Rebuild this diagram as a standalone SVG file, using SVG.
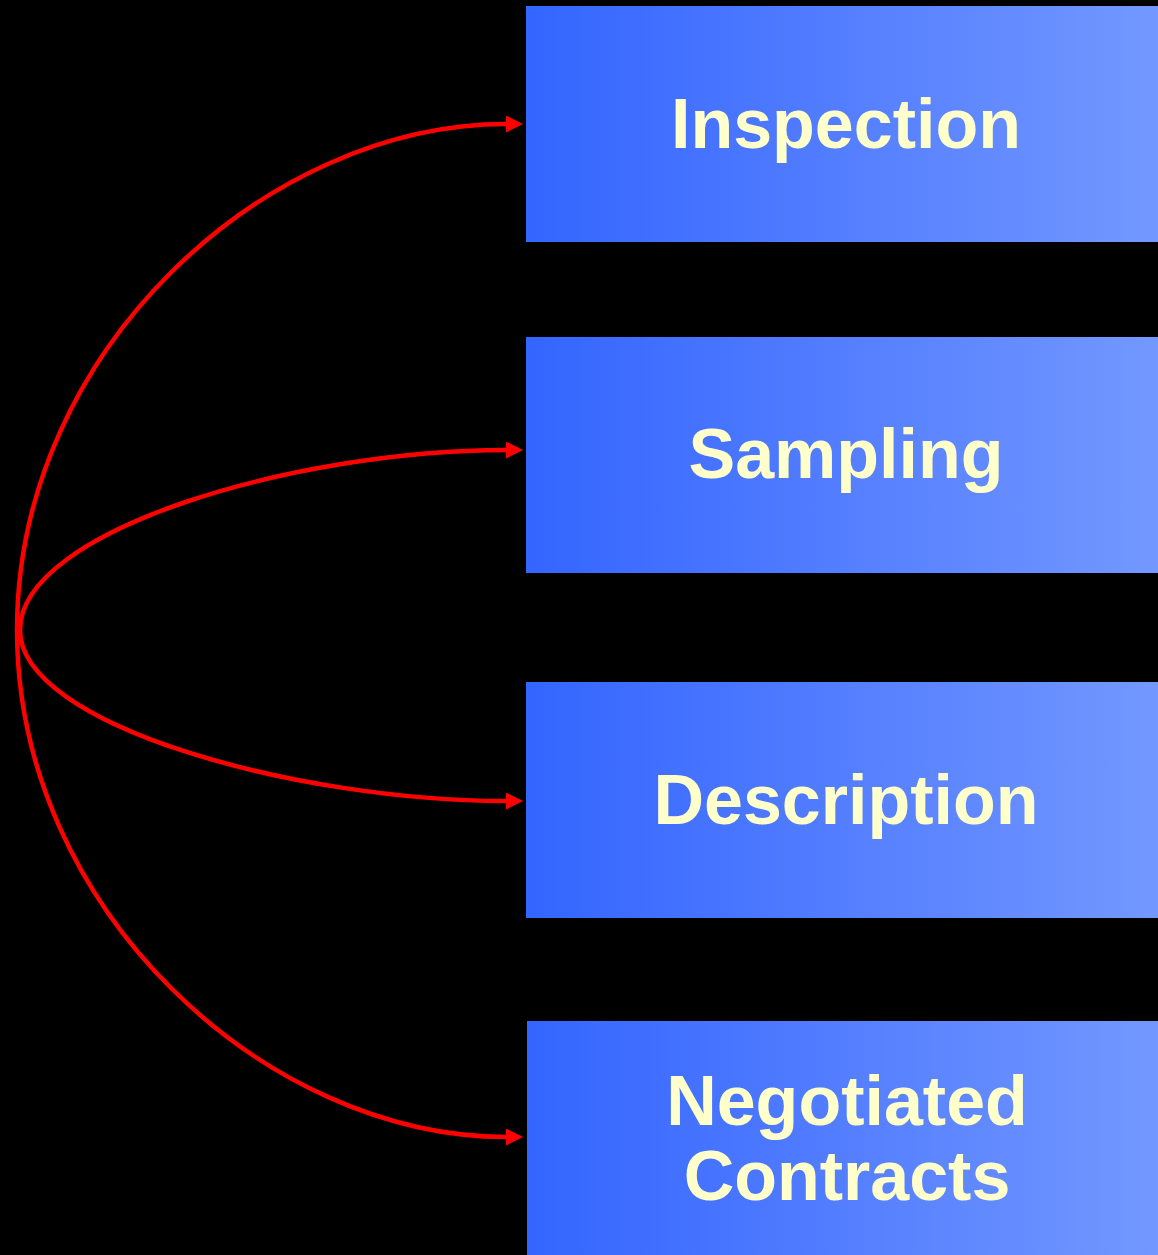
<svg xmlns="http://www.w3.org/2000/svg" width="1158" height="1255" viewBox="0 0 1158 1255">
  <defs>
    <linearGradient id="boxGrad" x1="0" y1="0" x2="1" y2="0">
      <stop offset="0" stop-color="#3366ff"/>
      <stop offset="0.15" stop-color="#3d6cff"/>
      <stop offset="1" stop-color="#7398ff"/>
    </linearGradient>
    <marker id="arrow" markerUnits="userSpaceOnUse" markerWidth="18" markerHeight="18" refX="0" refY="8.5" orient="auto">
      <polygon points="0,0 17,8.5 0,17" fill="#ff0000"/>
    </marker>
    <style>
      .box { fill: url(#boxGrad); }
      .label { font-family: "Liberation Sans", Arial, sans-serif; font-weight: bold; font-size: 70px; fill: #ffffcc; text-anchor: middle; }
      .conn { fill: none; stroke: #ff0000; stroke-width: 4.5; marker-end: url(#arrow); }
    </style>
  </defs>
  <rect x="0" y="0" width="1158" height="1255" fill="#000000"/>

  <g id="node-inspection">
    <rect class="box" x="526" y="6" width="632" height="236"/>
    <text class="label" x="846" y="148">Inspection</text>
  </g>
  <g id="node-sampling">
    <rect class="box" x="526" y="337" width="632" height="236"/>
    <text class="label" x="846" y="478">Sampling</text>
  </g>
  <g id="node-description">
    <rect class="box" x="526" y="682" width="632" height="236"/>
    <text class="label" x="846" y="824">Description</text>
  </g>
  <g id="node-negotiated">
    <rect class="box" x="527" y="1021" width="631" height="234"/>
    <text class="label" x="847" y="1125">Negotiated</text>
    <text class="label" x="847" y="1200">Contracts</text>
  </g>

  <g id="connectors">
    <path class="conn" d="M17,630 C17,350 266,124 506,124"/>
    <path class="conn" d="M20,630 C20,530 296,450 506,450"/>
    <path class="conn" d="M20,630 C20,725 296,801 506,801"/>
    <path class="conn" d="M17,630 C17,910 266,1137 506,1137"/>
  </g>
</svg>
